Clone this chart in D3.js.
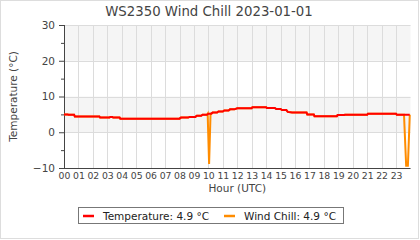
<!DOCTYPE html>
<html><head><meta charset="utf-8">
<script src="https://cdn.jsdelivr.net/npm/d3@7"></script>
<style>body{margin:0;background:#fff}svg{display:block;font-family:"DejaVu Sans",sans-serif}</style>
</head><body><svg id="c" width="420" height="240"></svg>
<script>
const title = "WS2350 Wind Chill 2023-01-01";
const hourLabels = ["00","01","02","03","04","05","06","07","08","09","10","11","12","13","14","15","16","17","18","19","20","21","22","23"];
const yTicks = [-10, 0, 10, 20, 30];
const tempHours = [0.0,0.25,0.3,0.7,0.75,2.45,2.5,3.15,3.2,3.35,3.4,3.85,3.9,8.0,8.1,8.6,8.7,9.1,9.2,9.5,9.6,9.9,10.0,10.2,10.3,10.6,10.7,11.0,11.1,11.4,11.5,11.8,12.0,13.0,13.05,14.0,14.05,14.6,14.7,15.0,15.1,15.4,15.5,15.8,16.8,16.85,17.3,17.35,18.9,18.95,19.4,19.45,21.0,21.05,23.0,23.05,23.95];
const temperature = [5.0,5.0,4.9,4.9,4.4,4.4,4.1,4.1,4.3,4.3,4.1,4.1,3.8,3.8,4.1,4.1,4.3,4.3,4.6,4.6,4.9,4.9,5.2,5.2,5.5,5.5,5.8,5.8,6.1,6.1,6.4,6.4,6.7,6.7,7.0,7.0,6.8,6.8,6.5,6.5,6.2,6.2,5.7,5.5,5.5,5.0,5.0,4.5,4.5,4.8,4.8,4.9,4.9,5.2,5.2,4.9,4.9];
const chillHours = [0.0,0.25,0.3,0.7,0.75,2.45,2.5,3.15,3.2,3.35,3.4,3.85,3.9,8.0,8.1,8.6,8.7,9.1,9.2,9.5,9.6,9.9,9.95,10.05,10.15,10.2,10.3,10.6,10.7,11.0,11.1,11.4,11.5,11.8,12.0,13.0,13.05,14.0,14.05,14.6,14.7,15.0,15.1,15.4,15.5,15.8,16.8,16.85,17.3,17.35,18.9,18.95,19.4,19.45,21.0,21.05,23.0,23.05,23.55,23.7,23.82,23.95];
const windChill = [5.0,5.0,4.9,4.9,4.4,4.4,4.1,4.1,4.3,4.3,4.1,4.1,3.8,3.8,4.1,4.1,4.3,4.3,4.6,4.6,4.9,4.9,5.2,-8.9,5.2,5.2,5.5,5.5,5.8,5.8,6.1,6.1,6.4,6.4,6.7,6.7,7.0,7.0,6.8,6.8,6.5,6.5,6.2,6.2,5.7,5.5,5.5,5.0,5.0,4.5,4.5,4.8,4.8,4.9,4.9,5.2,5.2,4.9,4.9,-9.4,-9.4,4.9];
const legendItems = ["Temperature: 4.9 °C", "Wind Chill: 4.9 °C"];
const colors = ["#ff0000", "#ff8c00"];

const svg = d3.select("#c");
const L = 64, R = 410.5, T = 25, B = 168;
const x = d3.scaleLinear().domain([0, 24]).range([L, R]);
const y = d3.scaleLinear().domain([-10, 30]).range([B, T]);
const ink = "#444";
const fs = 10.5;

svg.append("rect").attr("x",0.5).attr("y",0.5).attr("width",418).attr("height",238)
  .attr("fill","#fff").attr("stroke","#ddd");

// bands
[[20,30],[0,10]].forEach(([a,b]) => {
  svg.append("rect").attr("x",L).attr("y",y(b)).attr("width",R-L).attr("height",y(a)-y(b)).attr("fill","#f5f5f5");
});
// grid
const g = svg.append("g").attr("stroke","#dcdcdc").attr("stroke-width",1);
d3.range(1,24).forEach(h => g.append("line").attr("x1",Math.round(x(h))+0.5).attr("x2",Math.round(x(h))+0.5).attr("y1",T).attr("y2",B));
yTicks.forEach(v => g.append("line").attr("x1",L).attr("x2",R).attr("y1",Math.round(y(v))+0.5).attr("y2",Math.round(y(v))+0.5));

// y axis
const ya = svg.append("g").attr("transform",`translate(${L},0)`)
  .call(d3.axisLeft(y).tickValues(yTicks).tickSize(5).tickPadding(4).tickFormat(d3.format("d")));
ya.select(".domain").attr("stroke",ink).attr("d",`M0.5,${T}V${B}`);
ya.selectAll(".tick line").attr("stroke",ink);
ya.selectAll("text").attr("fill",ink).attr("font-size",fs).attr("font-family","DejaVu Sans");
const ym = svg.append("g").attr("transform",`translate(${L},0)`)
  .call(d3.axisLeft(y).tickValues([-5,5,15,25]).tickSize(3).tickFormat(""));
ym.select(".domain").remove();
ym.selectAll(".tick line").attr("stroke",ink);

// x axis
const xa = svg.append("g").attr("transform",`translate(0,${B})`)
  .call(d3.axisBottom(x).tickValues(d3.range(0,24)).tickSize(0).tickPadding(4).tickFormat(d => hourLabels[d]));
xa.select(".domain").attr("stroke",ink).attr("d",`M${L},0.5H${R}`);
xa.selectAll("text").attr("fill",ink).attr("font-size",9.3).attr("font-family","DejaVu Sans");

// lines
const line = d3.line().x(d => x(d[0])).y(d => y(d[1]));
svg.append("path").datum(chillHours.map((h,i)=>[h,windChill[i]])).attr("d",line)
  .attr("fill","none").attr("stroke",colors[1]).attr("stroke-width",2);
svg.append("path").datum(tempHours.map((h,i)=>[h,temperature[i]])).attr("d",line)
  .attr("fill","none").attr("stroke",colors[0]).attr("stroke-width",2);

// texts
svg.append("text").attr("x",209).attr("y",15.5).attr("text-anchor","middle").attr("font-size",13.3).attr("fill",ink).text(title);
svg.append("text").attr("transform",`translate(17,${(T+B)/2}) rotate(-90)`).attr("text-anchor","middle")
  .attr("font-size",fs).attr("fill",ink).text("Temperature (°C)");
svg.append("text").attr("x",(L+R)/2).attr("y",191.5).attr("text-anchor","middle").attr("font-size",fs).attr("fill",ink).text("Hour (UTC)");

// legend
svg.append("rect").attr("x",78.5).attr("y",207.5).attr("width",265).attr("height",16).attr("fill","#fff").attr("stroke","#777");
const lx = [83, 224];
legendItems.forEach((t,i) => {
  svg.append("line").attr("x1",lx[i]).attr("x2",lx[i]+11).attr("y1",216).attr("y2",216).attr("stroke",colors[i]).attr("stroke-width",2.5);
  svg.append("text").attr("x",lx[i]+20).attr("y",219.5).attr("font-size",fs).attr("fill","#222").text(t);
});
</script></body></html>
